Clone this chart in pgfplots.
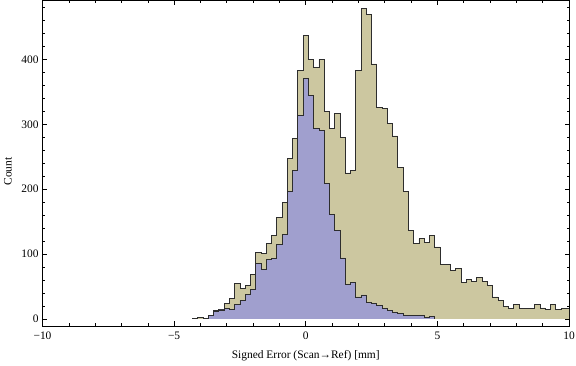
\documentclass[border=0pt]{standalone}
\usepackage{fontspec}
\setmainfont{Liberation Serif}
\usepackage{pgfplots}
\pgfplotsset{compat=1.18}
\usepackage{pgfplotstable}

\definecolor{tanfill}{RGB}{204,199,160}
\definecolor{bluefill}{RGB}{160,159,206}
\definecolor{edgec}{RGB}{45,45,45}

\pgfplotstableread{
x y
-4.3 0
-4.3 1
-4.1 2
-3.9 1
-3.7 6
-3.5 13
-3.3 15
-3.1 24
-2.9 32
-2.7 55
-2.5 47
-2.3 51
-2.1 69
-1.9 103
-1.7 101
-1.5 117
-1.3 129
-1.1 157
-0.9 179
-0.7 247
-0.5 278
-0.3 383
-0.1 437
0.1 400
0.3 388
0.5 400
0.7 320
0.9 294
1.1 316
1.3 280
1.5 225
1.7 229
1.9 383
2.1 479
2.3 469
2.5 393
2.7 326
2.9 324
3.1 301
3.3 282
3.5 234
3.7 196
3.9 137
4.1 116
4.3 124
4.5 118
4.7 129
4.9 111
5.1 84
5.3 84
5.5 75
5.7 78
5.9 56
6.1 61
6.3 58
6.5 64
6.7 58
6.9 51
7.1 34
7.3 29
7.5 19
7.7 16
7.9 23
8.1 16
8.3 16
8.5 16
8.7 23
8.9 17
9.1 15
9.3 23
9.5 15
9.7 16
9.9 16
10.1 0
}\tantable

\pgfplotstableread{
x y
-3.7 0
-3.7 5
-3.5 11
-3.3 14
-3.1 16
-2.9 15
-2.7 23
-2.5 29
-2.3 38
-2.1 46
-1.9 86
-1.7 76
-1.5 92
-1.3 93
-1.1 115
-0.9 130
-0.7 197
-0.5 229
-0.3 313
-0.1 371
0.1 345
0.3 293
0.5 291
0.7 209
0.9 161
1.1 137
1.3 94
1.5 53
1.7 56
1.9 34
2.1 37
2.3 25
2.5 24
2.7 21
2.9 16
3.1 13
3.3 10
3.5 8
3.7 5
3.9 6
4.1 5
4.3 6
4.5 2
4.7 4
4.9 0
}\bluetable

\begin{document}
\fontsize{11.5}{13}\selectfont
\begin{tikzpicture}
\path[use as bounding box] (0,0) rectangle (576bp,366bp);
\begin{axis}[
  at={(42.5bp,40bp)}, anchor=south west,
  scale only axis, width=526.5bp, height=325.5bp,
  xmin=-10, xmax=10, ymin=-10.8, ymax=490.7,
  xtick={-10,-5,0,5,10}, xticklabels={−10,−5,0,5,10},
  ytick={0,100,200,300,400}, yticklabels={0,100,200,300,400},
  minor xtick={-10,-9,...,10},
  minor ytick={0,20,...,480},
  tick align=inside, major tick length=4.5bp, minor tick length=2.5bp,
  axis line style={line width=0.8bp, black},
  every tick/.style={black, line width=0.6bp},
  xticklabel style={yshift=-2bp},
  xlabel={Signed Error (Scan→Ref) [mm]},
  ylabel={Count},
  xlabel style={at={(axis description cs:0.5,-0.0737)}, anchor=north, inner sep=0pt},
  ylabel style={at={(axis description cs:-0.0655,0.475)}, anchor=center, inner sep=0pt},
]
\addplot[const plot mark left, fill=tanfill, draw=none, no marks] table {\tantable} \closedcycle;
\addplot[const plot mark left, draw=edgec, line width=0.8bp, no marks] table {\tantable};
\addplot[const plot mark left, fill=bluefill, draw=none, no marks] table {\bluetable} \closedcycle;
\addplot[const plot mark left, draw=edgec, line width=0.8bp, no marks] table {\bluetable};
\end{axis}
\end{tikzpicture}
\end{document}
